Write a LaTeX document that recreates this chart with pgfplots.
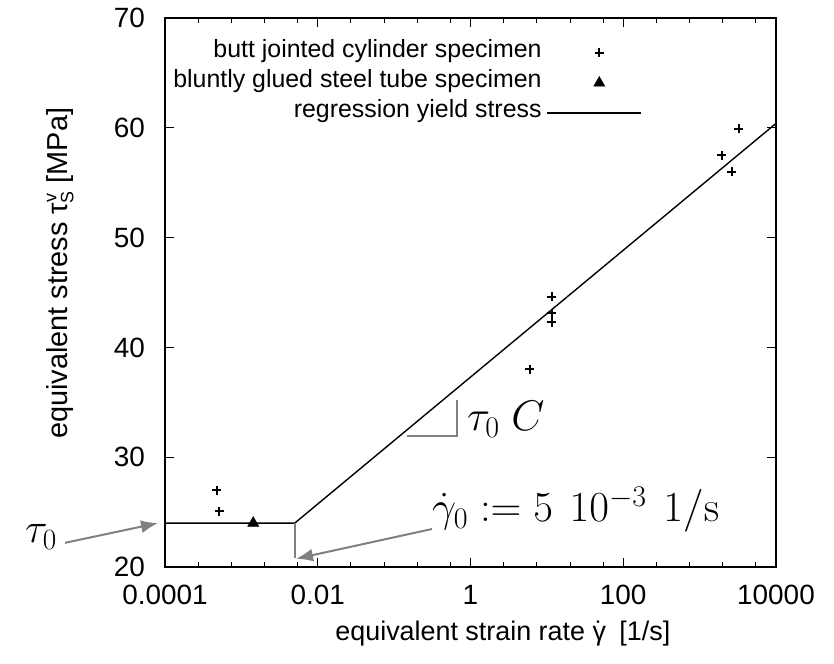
\RequirePackage{fix-cm}
\documentclass[border=0pt]{standalone}
\usepackage[no-math]{fontspec}
\setmainfont{Liberation Sans}
\usepackage{pgfplots}
\pgfplotsset{compat=1.18}
\usetikzlibrary{arrows.meta}
\definecolor{annot}{RGB}{128,128,128}
\pgfplotsset{
  legmark/.style={legend image code/.code={\path[draw=none,fill=none] (0bp,0bp) -- (94bp,0bp); \draw[##1] plot coordinates {(52bp,0bp)};}},
  legline/.style={legend image code/.code={\draw[##1] (0bp,0bp) -- (94bp,0bp);}},
}
\newcommand{\gdot}{\ooalign{γ\cr\hidewidth˙\hidewidth\cr}}
\begin{document}
\begin{tikzpicture}
\begin{axis}[
  scale only axis,
  width=611bp, height=549bp,
  xmode=log, log basis x=10,
  xmin=1e-4, xmax=1e4, ymin=20, ymax=70,
  xtick={1e-4,1e-2,1,100,1e4},
  xticklabels={0.0001,0.01,1,100,10000},
  minor xtick={2.71828e-4,7.38906e-4,2.00855e-3,5.45982e-3,
               2.71828e-2,7.38906e-2,2.00855e-1,5.45982e-1,
               2.71828,7.38906,20.0855,54.5982,
               271.828,738.906,2008.55,5459.82},
  ytick={20,30,40,50,60,70},
  minor ytick={},
  tick align=inside,
  major tick length=9bp, minor tick length=5bp,
  every tick/.style={black, line width=1bp},
  axis line style={line width=1.3bp},
  /pgf/number format/assume math mode=true,
  xticklabel style={font=\fontsize{28}{28}\selectfont, inner sep=0pt, yshift=-18bp},
  yticklabel style={font=\fontsize{28}{28}\selectfont, inner sep=0pt, xshift=-20bp},
  xlabel={equivalent strain rate \gdot\hspace{0.5em}[1/s]},
  ylabel={equivalent stress τ{\fontsize{18}{18}\selectfont\raisebox{11bp}{v}\kern-9.5bp\raisebox{-6bp}{S}} [MPa]},
  xlabel style={font=\fontsize{27}{27}\selectfont, at={(axis description cs:0.553,-0.133)}, anchor=base},
  ylabel style={font=\fontsize{29}{29}\selectfont, at={(axis description cs:-0.172,0.535)}, anchor=center},
  clip=false,
  legend style={draw=none, fill=none, inner sep=0pt, outer sep=0pt,
    at={(0.7807,0.9636)}, anchor=north east,
    font=\fontsize{25}{25}\selectfont,
    row sep=0pt, column sep=5bp,
    nodes={inner sep=0pt, outer sep=0pt, text height=20bp, text depth=10bp}},
  legend cell align=right,
  legend plot pos=right,
]
\addplot[only marks, mark=+, mark size=4.5bp, line width=2bp, black, legmark]
  coordinates {
  (4.75e-4,27.0) (5.14e-4,25.1)
  (6.0,38.0) (11.6,44.6) (11.6,43.1) (11.6,42.3)
  (1950,57.5) (2630,56.0) (3260,59.9)
};
\addlegendentry{butt jointed cylinder specimen}
\addplot[only marks, mark=triangle*, mark size=6.5bp, black, legmark]
  coordinates {(1.43e-3,24.0)};
\addlegendentry{bluntly glued steel tube specimen}
\addplot[black, line width=1.4bp, mark=none, legline]
  coordinates {(1e-4,24.0) (5e-3,24.0) (1e4,60.4)};
\addlegendentry{regression yield stress}

% annotations
\draw[annot, line width=2bp] (axis cs:5e-3,24) -- (axis cs:5e-3,20.8);
\draw[annot, line width=2bp] (axis cs:0.147,31.93) -- (axis cs:0.664,31.93) -- (axis cs:0.664,35.2);
\draw[annot, line width=2bp, -{Latex[length=17bp,width=13bp]}] (axis cs:4.9e-6,22.2) -- (axis cs:8.1e-5,24.0);
\draw[annot, line width=2bp, -{Latex[length=17bp,width=13bp]}] (axis cs:0.313,23.46) -- (axis cs:5.2e-3,20.75);
\node[anchor=base east, inner sep=0pt, font=\fontsize{42}{42}\selectfont] at (axis cs:3.86e-6,22.19) {$\tau_0$};
\node[anchor=base west, inner sep=0pt, font=\fontsize{43}{43}\selectfont] at (axis cs:0.897,32.4) {$\tau_0\;C$};
\node[anchor=base west, inner sep=0pt, font=\fontsize{43}{43}\selectfont] at (axis cs:0.313,24.1) {$\dot\gamma_0 := 5\mskip7mu 10^{-3}\mskip7mu 1/\mathrm{s}$};

\coordinate (SW) at (rel axis cs:0,0);
\coordinate (NE) at (rel axis cs:1,1);
\end{axis}
\pgfresetboundingbox
\path ([shift={(-165bp,-96bp)}]SW) rectangle ([shift={(58bp,18bp)}]NE);
\end{tikzpicture}
\end{document}
